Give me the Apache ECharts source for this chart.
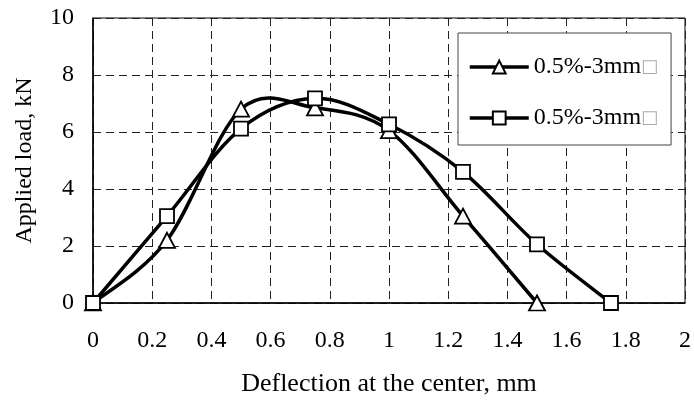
<!DOCTYPE html>
<html>
<head>
<meta charset="utf-8">
<script src="https://cdn.jsdelivr.net/npm/echarts@6/dist/echarts.min.js"></script>
<style>
html,body{margin:0;padding:0;background:#fff;}
#chart{width:694px;height:403px;}
</style>
</head>
<body>
<div id="chart"></div>
<script>
var seriesNames = ['0.5%-3mm□', '0.5%-3mm□ '];
var triX = [0, 0.25, 0.5, 0.75, 1.0, 1.25, 1.5];
var triY = [0, 2.2, 6.8, 6.85, 6.05, 3.05, 0];
var sqX = [0, 0.25, 0.5, 0.75, 1.0, 1.25, 1.5, 1.75];
var sqY = [0, 3.05, 6.12, 7.18, 6.27, 4.6, 2.06, 0];
var xTicks = [0, 0.2, 0.4, 0.6, 0.8, 1, 1.2, 1.4, 1.6, 1.8, 2];
var yTicks = [0, 2, 4, 6, 8, 10];

function pairs(xs, ys) { return xs.map(function (x, i) { return [x, ys[i]]; }); }

var FONT = '"Liberation Serif", "Times New Roman", serif';

// Excel-like smoothed curve (Catmull-Rom, tension 1/6) drawn through the axis scales
function curveSeries(data, z) {
  return {
    type: 'custom', data: data, z: z, silent: true,
    renderItem: function (params, api) {
      var i = params.dataIndex;
      if (i >= data.length - 1) return null;
      var p = function (k) {
        k = Math.max(0, Math.min(data.length - 1, k));
        return api.coord(data[k]);
      };
      var p0 = p(i - 1), p1 = p(i), p2 = p(i + 1), p3 = p(i + 2);
      var c1 = [p1[0] + (p2[0] - p0[0]) / 6, p1[1] + (p2[1] - p0[1]) / 6];
      var c2 = [p2[0] - (p3[0] - p1[0]) / 6, p2[1] - (p3[1] - p1[1]) / 6];
      return {
        type: 'bezierCurve',
        shape: {x1: p1[0], y1: p1[1], cpx1: c1[0], cpy1: c1[1], cpx2: c2[0], cpy2: c2[1], x2: p2[0], y2: p2[1]},
        style: {stroke: '#000', lineWidth: 3.5, fill: null, lineCap: 'round'}
      };
    }
  };
}

var chart = echarts.init(document.getElementById('chart'), null, {renderer: 'canvas'});
chart.setOption({
  animation: false,
  backgroundColor: '#fff',
  grid: {left: 93, top: 18, right: 9, bottom: 100, show: true, borderColor: '#000', borderWidth: 1, backgroundColor: 'transparent'},
  xAxis: {
    type: 'value', min: xTicks[0], max: xTicks[xTicks.length - 1], interval: 0.2,
    name: 'Deflection at the center, mm', nameLocation: 'middle', nameGap: 68,
    nameTextStyle: {fontFamily: FONT, fontSize: 26, color: '#000'},
    axisLine: {lineStyle: {color: '#000', width: 1.5}},
    axisTick: {show: false},
    axisLabel: {fontFamily: FONT, fontSize: 24, color: '#000', margin: 26,
      formatter: function (v) { return String(Math.round(v * 10) / 10); }},
    splitLine: {show: true, lineStyle: {color: '#222', width: 1, type: [8, 5]}}
  },
  yAxis: {
    type: 'value', min: yTicks[0], max: yTicks[yTicks.length - 1], interval: 2,
    name: 'Applied load, kN', nameLocation: 'middle', nameGap: 56,
    nameTextStyle: {fontFamily: FONT, fontSize: 24, color: '#000'},
    axisLine: {show: true, lineStyle: {color: '#000', width: 1.5}},
    axisTick: {show: false},
    axisLabel: {fontFamily: FONT, fontSize: 24, color: '#000', margin: 19},
    splitLine: {show: true, lineStyle: {color: '#222', width: 1, type: [8, 5]}}
  },
  legend: {
    orient: 'vertical', left: 458, top: 33,
    padding: [22, 13, 15, 10], itemGap: 27,
    itemWidth: 59, itemHeight: 16,
    backgroundColor: '#fff', borderColor: '#444', borderWidth: 1,
    lineStyle: {color: '#000', width: 3.5, opacity: 1},
    data: seriesNames,
    formatter: function (n) { return '{a|0.5%-3mm}{b|□}'; },
    textStyle: {
      rich: {
        a: {fontFamily: FONT, fontSize: 24, color: '#000', lineHeight: 24},
        b: {fontFamily: '"DejaVu Sans", sans-serif', fontSize: 18, color: '#aaa', lineHeight: 24}
      }
    }
  },
  series: [
    curveSeries(pairs(triX, triY), 2),
    {
      name: seriesNames[0], type: 'line', data: pairs(triX, triY),
      symbol: 'triangle', symbolSize: [16, 15], showAllSymbol: true,
      lineStyle: {color: '#000', width: 3.5, opacity: 0},
      itemStyle: {color: '#fff', borderColor: '#000', borderWidth: 1.8},
      z: 3
    },
    curveSeries(pairs(sqX, sqY), 4),
    {
      name: seriesNames[1], type: 'line', data: pairs(sqX, sqY),
      symbol: 'rect', symbolSize: 14, showAllSymbol: true,
      lineStyle: {color: '#000', width: 3.5, opacity: 0},
      itemStyle: {color: '#fff', borderColor: '#000', borderWidth: 1.8},
      z: 5
    }
  ]
});
</script>
</body>
</html>
